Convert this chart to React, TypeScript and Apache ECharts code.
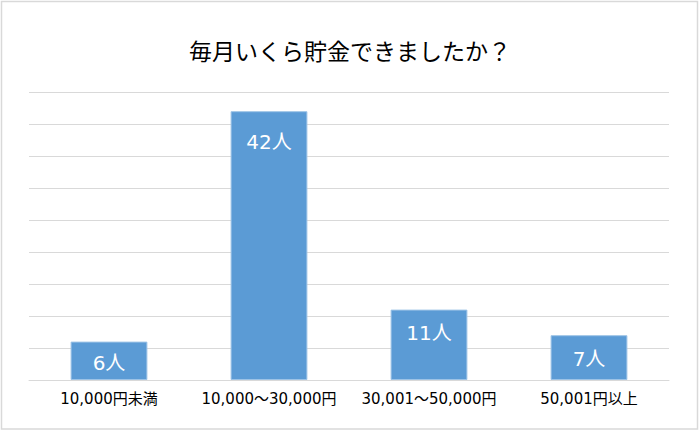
import React, { useEffect, useRef } from "react";
import * as echarts from "echarts";

const titleText = "毎月いくら貯金できましたか？";
const categories = ["10,000円未満", "10,000〜30,000円", "30,001〜50,000円", "50,001円以上"];
const values = [6, 42, 11, 7];
const labelDistances = [11, 21, 13, 14];

export default function App() {
  const ref = useRef<HTMLDivElement>(null);
  useEffect(() => {
    if (!ref.current) return;
    const chart = echarts.init(ref.current, null, { renderer: "svg" });
    const font = "'DejaVu Sans', 'Noto Sans CJK JP', sans-serif";
    chart.setOption({
      animation: false,
      backgroundColor: "#ffffff",
      title: {
        text: titleText,
        left: "center",
        top: 33,
        textStyle: { fontSize: 23, fontWeight: "normal", color: "#000000", fontFamily: "'Noto Sans CJK JP', sans-serif" },
      },
      graphic: [
        {
          type: "rect",
          shape: { x: 1.5, y: 1.5, width: 696, height: 427.5 },
          style: { fill: "none", stroke: "#d9d9d9", lineWidth: 1.5 },
          silent: true,
        },
      ],
      grid: { left: 29, right: 31, top: 92, bottom: 51, containLabel: false },
      xAxis: {
        type: "category",
        data: categories,
        axisLine: { show: true, lineStyle: { color: "#d9d9d9" } },
        axisTick: { show: false },
        axisLabel: { color: "#000000", fontSize: 15, fontFamily: font, margin: 11, interval: 0, hideOverlap: false },
      },
      yAxis: {
        type: "value",
        min: 0,
        max: 45,
        interval: 5,
        axisLabel: { show: false },
        axisLine: { show: false },
        axisTick: { show: false },
        splitLine: { lineStyle: { color: "#d9d9d9", width: 1 } },
      },
      series: [
        {
          type: "bar",
          barWidth: "48%",
          data: values.map((v, i) => ({
            value: v,
            label: { distance: labelDistances[i] },
          })),
          itemStyle: { color: "#5b9bd5", borderColor: "#9dc3e6", borderWidth: 1 },
          label: {
            show: true,
            position: "insideTop",
            formatter: "{c}人",
            color: "#ffffff",
            fontSize: 20,
            fontFamily: font,
          },
        },
      ],
    });
    return () => chart.dispose();
  }, []);
  return (
    <div
      ref={ref}
      style={{ position: "fixed", left: 0, top: 0, width: 700, height: 431 }}
    />
  );
}
